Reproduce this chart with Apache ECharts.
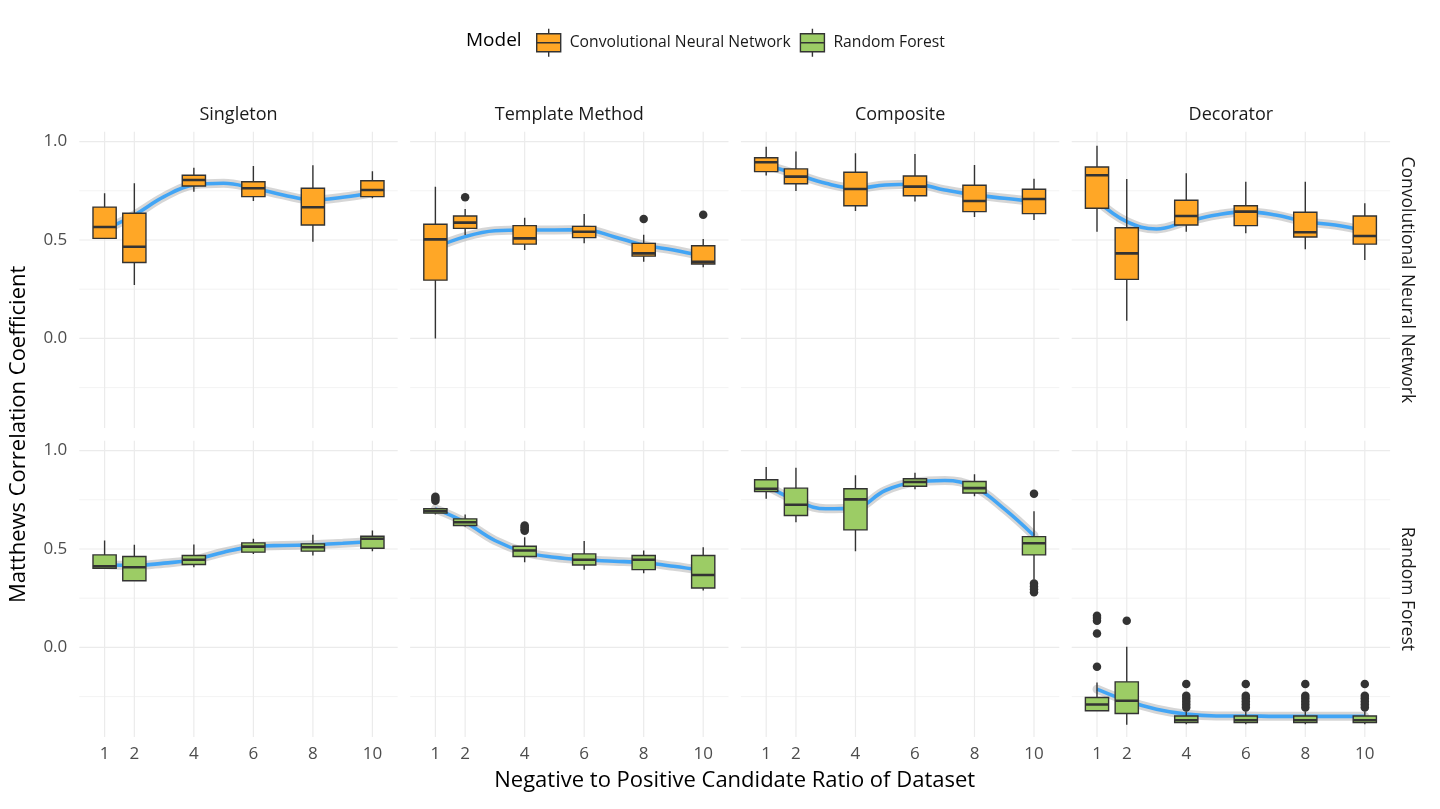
<!DOCTYPE html>
<html>
<head>
<meta charset="utf-8">
<title>Matthews Correlation Coefficient by ratio</title>
<script src="https://cdn.jsdelivr.net/npm/echarts@6/dist/echarts.min.js"></script>
<style>
  html, body { margin: 0; padding: 0; background: #fff; }
  #chart { width: 1440px; height: 809px; }
</style>
</head>
<body>
<div id="chart"></div>
<script>
// x positions of the boxes and tick labels
const ratios = [1, 2, 4, 6, 8, 10]
// x positions where the smooth curve was read
const fitX = [1, 2, 3, 4, 5, 6, 7, 8, 9, 10]
const patterns = ['Singleton', 'Template Method', 'Composite', 'Decorator']
const models = ['Convolutional Neural Network', 'Random Forest']
const yMajorTicks = [0, 0.5, 1.0]
const yMinorTicks = [-0.25, 0.25, 0.75]

// box stats per ratio: [low whisker, Q1, median, Q3, high whisker]
const cnnSingletonStats = [
  [0.505, 0.508, 0.566, 0.667, 0.737],
  [0.271, 0.386, 0.466, 0.636, 0.788],
  [0.745, 0.774, 0.805, 0.829, 0.867],
  [0.698, 0.720, 0.763, 0.796, 0.876],
  [0.491, 0.576, 0.666, 0.763, 0.879],
  [0.712, 0.720, 0.754, 0.801, 0.849]
]
const cnnTemplateStats = [
  [0.000, 0.296, 0.503, 0.580, 0.771],
  [0.525, 0.559, 0.588, 0.622, 0.657],
  [0.449, 0.479, 0.508, 0.573, 0.613],
  [0.483, 0.512, 0.542, 0.569, 0.632],
  [0.389, 0.418, 0.432, 0.483, 0.527],
  [0.361, 0.378, 0.389, 0.471, 0.505]
]
const cnnCompositeStats = [
  [0.827, 0.847, 0.895, 0.918, 0.974],
  [0.749, 0.786, 0.822, 0.861, 0.949],
  [0.647, 0.674, 0.759, 0.844, 0.941],
  [0.695, 0.725, 0.771, 0.825, 0.937],
  [0.617, 0.644, 0.698, 0.778, 0.881],
  [0.601, 0.634, 0.708, 0.758, 0.811]
]
const cnnDecoratorStats = [
  [0.542, 0.661, 0.829, 0.871, 0.979],
  [0.090, 0.300, 0.432, 0.562, 0.810],
  [0.542, 0.576, 0.622, 0.702, 0.839],
  [0.534, 0.573, 0.644, 0.674, 0.796],
  [0.453, 0.515, 0.539, 0.641, 0.796],
  [0.398, 0.479, 0.520, 0.622, 0.686]
]
const rfSingletonStats = [
  [0.400, 0.402, 0.412, 0.470, 0.543],
  [0.339, 0.339, 0.407, 0.462, 0.521],
  [0.407, 0.421, 0.445, 0.467, 0.523],
  [0.475, 0.484, 0.512, 0.531, 0.552],
  [0.467, 0.489, 0.509, 0.526, 0.572],
  [0.489, 0.504, 0.552, 0.565, 0.594]
]
const rfTemplateStats = [
  [0.675, 0.682, 0.692, 0.704, 0.709],
  [0.614, 0.619, 0.636, 0.653, 0.675],
  [0.433, 0.462, 0.492, 0.514, 0.560],
  [0.395, 0.419, 0.445, 0.475, 0.540],
  [0.377, 0.395, 0.445, 0.467, 0.492],
  [0.289, 0.302, 0.368, 0.467, 0.509]
]
const rfCompositeStats = [
  [0.755, 0.792, 0.806, 0.852, 0.916],
  [0.636, 0.670, 0.725, 0.809, 0.913],
  [0.489, 0.597, 0.752, 0.806, 0.874],
  [0.803, 0.819, 0.840, 0.857, 0.887],
  [0.768, 0.784, 0.809, 0.843, 0.879],
  [0.345, 0.470, 0.529, 0.563, 0.692]
]
const rfDecoratorStats = [
  [-0.322, -0.322, -0.290, -0.254, -0.178],
  [-0.393, -0.336, -0.271, -0.175, 0.004],
  [-0.390, -0.382, -0.370, -0.348, -0.325],
  [-0.390, -0.382, -0.370, -0.348, -0.325],
  [-0.390, -0.382, -0.370, -0.348, -0.325],
  [-0.390, -0.382, -0.370, -0.348, -0.325]
]

// outliers: [ratio, value]
const cnnSingletonOut = []
const cnnTemplateOut = [[2, 0.717], [8, 0.607], [10, 0.628]]
const cnnCompositeOut = []
const cnnDecoratorOut = []
const rfSingletonOut = []
const rfTemplateOut = [[1, 0.745], [1, 0.755], [1, 0.765], [4, 0.592], [4, 0.600], [4, 0.610], [4, 0.619]]
const rfCompositeOut = [[10, 0.781], [10, 0.325], [10, 0.310], [10, 0.295], [10, 0.280]]
const rfDecoratorOut = [
  [1, 0.161], [1, 0.150], [1, 0.136], [1, 0.071], [1, -0.098],
  [2, 0.136],
  [4, -0.186], [4, -0.245], [4, -0.260], [4, -0.275], [4, -0.290], [4, -0.305],
  [6, -0.186], [6, -0.245], [6, -0.260], [6, -0.275], [6, -0.290], [6, -0.305],
  [8, -0.186], [8, -0.245], [8, -0.260], [8, -0.275], [8, -0.290], [8, -0.305],
  [10, -0.186], [10, -0.245], [10, -0.260], [10, -0.275], [10, -0.290], [10, -0.305]
]

// smooth (loess) curve read at fitX
const cnnSingletonFit = [0.552, 0.627, 0.720, 0.780, 0.788, 0.763, 0.729, 0.703, 0.717, 0.740]
const cnnTemplateFit = [0.462, 0.517, 0.547, 0.551, 0.551, 0.552, 0.517, 0.474, 0.449, 0.418]
const cnnCompositeFit = [0.881, 0.835, 0.788, 0.763, 0.779, 0.783, 0.754, 0.729, 0.712, 0.695]
const cnnDecoratorFit = [0.700, 0.593, 0.556, 0.593, 0.627, 0.644, 0.627, 0.593, 0.576, 0.547]
const rfSingletonFit = [0.421, 0.416, 0.428, 0.445, 0.484, 0.512, 0.518, 0.521, 0.529, 0.538]
const rfTemplateFit = [0.704, 0.636, 0.543, 0.484, 0.458, 0.445, 0.438, 0.430, 0.412, 0.390]
const rfCompositeFit = [0.823, 0.747, 0.704, 0.709, 0.797, 0.840, 0.848, 0.814, 0.704, 0.568]
const rfDecoratorFit = [-0.212, -0.271, -0.314, -0.339, -0.348, -0.348, -0.350, -0.350, -0.350, -0.350]

const allStats = [
  [cnnSingletonStats, cnnTemplateStats, cnnCompositeStats, cnnDecoratorStats],
  [rfSingletonStats, rfTemplateStats, rfCompositeStats, rfDecoratorStats]
]
const allOut = [
  [cnnSingletonOut, cnnTemplateOut, cnnCompositeOut, cnnDecoratorOut],
  [rfSingletonOut, rfTemplateOut, rfCompositeOut, rfDecoratorOut]
]
const allFit = [
  [cnnSingletonFit, cnnTemplateFit, cnnCompositeFit, cnnDecoratorFit],
  [rfSingletonFit, rfTemplateFit, rfCompositeFit, rfDecoratorFit]
]

const modelColors = ['#ffa726', '#9ccc65']
const X_MIN = 0.15, X_MAX = 10.85
const Y_MIN = -0.455, Y_MAX = 1.05
const BOX_WIDTH = 0.78
const FONT = '"Open Sans", Lato, sans-serif'

// panel layout
const PANEL_LEFT = 79.3, PANEL_TOP = 131.7
const PANEL_W = 318.4, PANEL_H = 296.3
const COL_STEP = 330.8, ROW_STEP = 309

const chart = echarts.init(document.getElementById('chart'))

// 画箱线图
const renderBox = (params, api) => {
  const x = api.value(0)
  const low = api.coord([x, api.value(1)])
  const q1 = api.coord([x, api.value(2)])
  const med = api.coord([x, api.value(3)])
  const q3 = api.coord([x, api.value(4)])
  const high = api.coord([x, api.value(5)])
  const half = api.size([BOX_WIDTH, 0])[0] / 2
  const stroke = { stroke: '#333333', lineWidth: 1.4 }
  return {
    type: 'group',
    children: [
      { type: 'line', shape: { x1: low[0], y1: low[1], x2: high[0], y2: high[1] }, style: stroke },
      {
        type: 'rect',
        shape: { x: q3[0] - half, y: q3[1], width: half * 2, height: q1[1] - q3[1] },
        style: { fill: api.visual('color'), stroke: '#333333', lineWidth: 1.4 }
      },
      {
        type: 'line',
        shape: { x1: med[0] - half, y1: med[1], x2: med[0] + half, y2: med[1] },
        style: { stroke: '#333333', lineWidth: 2.6 }
      }
    ]
  }
}

// 网格线
const renderHGrid = (params, api) => {
  const y = api.coord([api.value(0), api.value(1)])[1]
  const cs = params.coordSys
  return {
    type: 'line',
    shape: { x1: cs.x, y1: y, x2: cs.x + cs.width, y2: y },
    style: { stroke: '#ebebeb', lineWidth: api.value(2) ? 1.2 : 0.6 }
  }
}
const renderVGrid = (params, api) => {
  const x = api.coord([api.value(0), api.value(1)])[0]
  const cs = params.coordSys
  return {
    type: 'line',
    shape: { x1: x, y1: cs.y, x2: x, y2: cs.y + cs.height },
    style: { stroke: '#ebebeb', lineWidth: 1.2 }
  }
}

const grids = []
const xAxes = []
const yAxes = []
const series = []
const graphics = []

const hGridData = yMajorTicks.map(v => [X_MIN, v, 1]).concat(yMinorTicks.map(v => [X_MIN, v, 0]))
const vGridData = ratios.map(r => [r, Y_MIN])

for (let r = 0; r < models.length; r++) {
  for (let c = 0; c < patterns.length; c++) {
    const idx = r * patterns.length + c
    const left = PANEL_LEFT + c * COL_STEP
    const top = PANEL_TOP + r * ROW_STEP
    grids.push({ left: left, top: top, width: PANEL_W, height: PANEL_H, outerBoundsMode: 'none' })

    xAxes.push({
      type: 'value',
      gridIndex: idx,
      min: X_MIN,
      max: X_MAX,
      axisLine: { show: false },
      axisTick: { show: false },
      splitLine: { show: false },
      axisLabel: {
        show: r === models.length - 1,
        customValues: ratios,
        color: '#4d4d4d',
        fontSize: 17,
        fontFamily: FONT,
        margin: 9
      }
    })
    yAxes.push({
      type: 'value',
      gridIndex: idx,
      min: Y_MIN,
      max: Y_MAX,
      axisLine: { show: false },
      axisTick: { show: false },
      splitLine: { show: false },
      axisLabel: {
        show: c === 0,
        customValues: yMajorTicks,
        formatter: v => v.toFixed(1),
        color: '#4d4d4d',
        fontSize: 17,
        fontFamily: FONT,
        margin: 12
      }
    })

    series.push({
      type: 'custom',
      name: 'hgrid' + idx,
      xAxisIndex: idx,
      yAxisIndex: idx,
      renderItem: renderHGrid,
      encode: { x: 0, y: 1 },
      data: hGridData,
      silent: true,
      z: 0
    })
    series.push({
      type: 'custom',
      name: 'vgrid' + idx,
      xAxisIndex: idx,
      yAxisIndex: idx,
      renderItem: renderVGrid,
      encode: { x: 0, y: 1 },
      data: vGridData,
      silent: true,
      z: 0
    })

    const fitData = fitX.map((x, i) => [x, allFit[r][c][i]])
    // 置信带
    series.push({
      type: 'line',
      name: 'band' + idx,
      xAxisIndex: idx,
      yAxisIndex: idx,
      data: fitData,
      smooth: 0.4,
      symbol: 'none',
      lineStyle: { width: 9, color: 'rgba(153,153,153,0.4)', cap: 'round' },
      silent: true,
      z: 1
    })
    series.push({
      type: 'line',
      name: 'fit' + idx,
      xAxisIndex: idx,
      yAxisIndex: idx,
      data: fitData,
      smooth: 0.4,
      symbol: 'none',
      lineStyle: { width: 3.6, color: '#42a5f5' },
      silent: true,
      z: 2
    })

    series.push({
      type: 'custom',
      name: models[r],
      xAxisIndex: idx,
      yAxisIndex: idx,
      renderItem: renderBox,
      itemStyle: { color: modelColors[r] },
      encode: { x: 0, y: [1, 2, 3, 4, 5] },
      data: ratios.map((x, i) => [x].concat(allStats[r][c][i])),
      clip: true,
      z: 3
    })
    series.push({
      type: 'scatter',
      name: 'out' + idx,
      xAxisIndex: idx,
      yAxisIndex: idx,
      data: allOut[r][c],
      symbol: 'circle',
      symbolSize: 8.5,
      itemStyle: { color: '#333333', opacity: 1 },
      silent: true,
      z: 4
    })

    // 分面标签
    if (r === 0) {
      graphics.push({
        type: 'text',
        x: left + PANEL_W / 2,
        y: 114.5,
        style: {
          text: patterns[c],
          font: '18px ' + FONT,
          fill: '#1a1a1a',
          textAlign: 'center', align: 'center',
          textVerticalAlign: 'middle', verticalAlign: 'middle'
        }
      })
    }
    if (c === patterns.length - 1) {
      graphics.push({
        type: 'text',
        x: 1407,
        y: top + PANEL_H / 2,
        rotation: -Math.PI / 2,
        style: {
          text: models[r],
          font: '17.5px ' + FONT,
          fill: '#1a1a1a',
          textAlign: 'center', align: 'center',
          textVerticalAlign: 'middle', verticalAlign: 'middle'
        }
      })
    }
  }
}

// 坐标轴标题
graphics.push({
  type: 'text',
  x: 19,
  y: PANEL_TOP + (ROW_STEP + PANEL_H) / 2,
  rotation: Math.PI / 2,
  style: {
    text: 'Matthews Correlation Coefficient',
    font: '22px ' + FONT,
    fill: '#000000',
    textAlign: 'center', align: 'center',
    textVerticalAlign: 'middle', verticalAlign: 'middle'
  }
})
graphics.push({
  type: 'text',
  x: PANEL_LEFT + (3 * COL_STEP + PANEL_W) / 2,
  y: 781,
  style: {
    text: 'Negative to Positive Candidate Ratio of Dataset',
    font: '22px ' + FONT,
    fill: '#000000',
    textAlign: 'center', align: 'center',
    textVerticalAlign: 'middle', verticalAlign: 'middle'
  }
})
graphics.push({
  type: 'text',
  x: 466,
  y: 41,
  style: {
    text: 'Model',
    font: '19px ' + FONT,
    fill: '#000000',
    textAlign: 'left', align: 'left',
    textVerticalAlign: 'middle', verticalAlign: 'middle'
  }
})

const option = {
  animation: false,
  backgroundColor: '#ffffff',
  textStyle: { fontFamily: FONT },
  legend: {
    data: models,
    left: 536,
    top: 28,
    padding: 0,
    itemWidth: 24,
    itemHeight: 28,
    itemGap: 9,
    selectedMode: false,
    icon: 'path://M0,5L24,5L24,23L0,23Z M0,14L24,14 M12,0L12,5 M12,23L12,28',
    itemStyle: { borderColor: '#333333', borderWidth: 1.4 },
    textStyle: { fontSize: 15.7, color: '#1a1a1a', fontFamily: FONT, padding: [0, 0, 0, 4] }
  },
  grid: grids,
  xAxis: xAxes,
  yAxis: yAxes,
  series: series,
  graphic: graphics
}

chart.setOption(option)
</script>
</body>
</html>
